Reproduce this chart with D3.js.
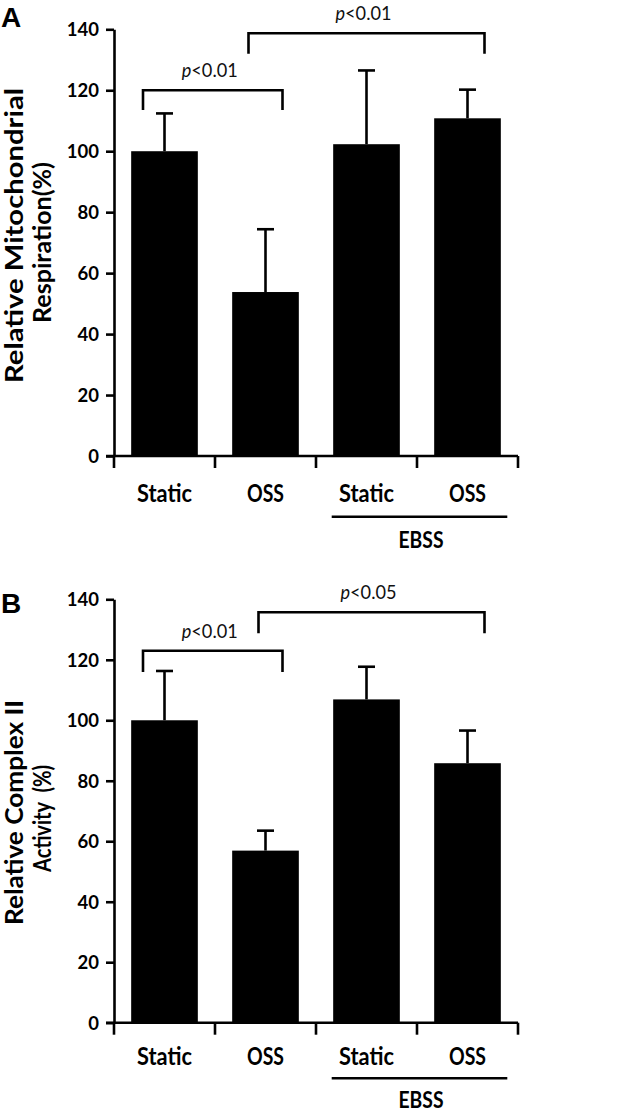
<!DOCTYPE html>
<html>
<head>
<meta charset="utf-8">
<script src="https://cdn.jsdelivr.net/npm/d3@7"></script>
<style>
  html, body { margin: 0; padding: 0; background: #fff; }
  svg { display: block; }
  text { white-space: pre; }
</style>
</head>
<body>
<svg id="chart" width="633" height="1113"></svg>
<script>
// ---------- data ----------
const categories = ["Static", "OSS", "EBSS Static", "EBSS OSS"];
const tickLabels = ["Static", "OSS", "Static", "OSS"];
const groupLabel = "EBSS";
const yTicks = [0, 20, 40, 60, 80, 100, 120, 140];

const respirationValues = [100, 53.8, 102.3, 110.8];
const respirationErrors = [12.4, 20.6, 24.2, 9.4];
const respirationTitle = ["Relative Mitochondrial", "Respiration(%)"];
const respirationBrackets = [
  { from: 0, to: 1, level: 120, leg: 113.5, p: "<0.01" },
  { from: 1, to: 3, level: 138.7, leg: 132, p: "<0.01" }
];

const complexValues = [100, 56.9, 106.9, 85.8];
const complexErrors = [16.3, 6.6, 10.8, 10.8];
const complexTitle = ["Relative Complex II", "Activity  (%)"];
const complexBrackets = [
  { from: 0, to: 1, level: 123, leg: 116, p: "<0.01" },
  { from: 1, to: 3, level: 135.7, leg: 128.8, p: "<0.05" }
];

// ---------- drawing ----------
const svg = d3.select("#chart");
const FONT = "Lato, 'Open Sans', sans-serif";
const SW = 2.6;

function panel(cfg) {
  const g = svg.append("g");
  const x = d3.scaleBand().domain(categories).range([114, 518])
    .paddingInner(0.34).paddingOuter(0.17);
  const y = d3.scaleLinear().domain([0, 140]).range([cfg.y0, cfg.y140]);

  // bars
  g.selectAll("rect.bar").data(cfg.values).join("rect")
    .attr("x", (d, i) => x(categories[i]))
    .attr("width", x.bandwidth())
    .attr("y", d => y(d))
    .attr("height", d => y(0) - y(d))
    .attr("fill", "#000");

  // error bars
  const cx = i => x(categories[i]) + x.bandwidth() / 2;
  const eb = g.append("g").attr("stroke", "#000").attr("stroke-width", SW);
  cfg.values.forEach((v, i) => {
    eb.append("line").attr("x1", cx(i)).attr("x2", cx(i))
      .attr("y1", y(v)).attr("y2", y(v + cfg.errors[i]));
    eb.append("line").attr("x1", cx(i) - 8.5).attr("x2", cx(i) + 8.5)
      .attr("y1", y(v + cfg.errors[i])).attr("y2", y(v + cfg.errors[i]));
  });

  // y axis
  const ya = g.append("g").attr("transform", "translate(114,0)")
    .call(d3.axisLeft(y).tickValues(yTicks).tickSize(8).tickSizeOuter(0).tickPadding(7));
  ya.select(".domain").attr("stroke-width", SW);
  ya.selectAll(".tick line").attr("stroke-width", SW);
  ya.selectAll(".tick text")
    .attr("font-family", FONT).attr("font-weight", "bold")
    .attr("font-size", 18.5).attr("fill", "#000").attr("dy", "0.36em");

  // x axis line + boundary ticks
  const xa = g.append("g").attr("stroke", "#000").attr("stroke-width", SW);
  xa.append("line").attr("x1", 106).attr("x2", 518)
    .attr("y1", y(0)).attr("y2", y(0));
  const bounds = categories.map(c => x(c) - x.step() * x.paddingInner() / 2);
  bounds[0] = 114;
  bounds.push(518);
  bounds.forEach(b => {
    xa.append("line").attr("x1", b).attr("x2", b)
      .attr("y1", y(0)).attr("y2", y(0) + 12);
  });

  // category labels
  tickLabels.forEach((t, i) => {
    g.append("text").text(t)
      .attr("x", cx(i)).attr("y", y(0) + cfg.labelDy)
      .attr("text-anchor", "middle")
      .attr("font-family", FONT).attr("font-weight", "bold")
      .attr("font-size", 24)
      .attr("textLength", t === "Static" ? 55 : 37)
      .attr("lengthAdjust", "spacingAndGlyphs");
  });

  // EBSS grouping line and label
  g.append("line").attr("x1", 331.7).attr("x2", 507.3)
    .attr("y1", y(0) + cfg.groupLineDy).attr("y2", y(0) + cfg.groupLineDy)
    .attr("stroke", "#000").attr("stroke-width", SW);
  g.append("text").text(groupLabel)
    .attr("x", 421).attr("y", y(0) + cfg.groupLabelDy)
    .attr("text-anchor", "middle")
    .attr("font-family", FONT).attr("font-weight", "bold").attr("font-size", 23)
    .attr("textLength", 45).attr("lengthAdjust", "spacingAndGlyphs");

  // significance brackets
  cfg.brackets.forEach((b, k) => {
    const off = cfg.bracketOffsets[k];
    const xl = cx(b.from) + off[0], xr = cx(b.to) + off[1];
    g.append("path")
      .attr("d", `M${xl},${y(b.leg)}V${y(b.level)}H${xr}V${y(b.leg)}`)
      .attr("fill", "none").attr("stroke", "#000").attr("stroke-width", SW);
    const t = g.append("text")
      .attr("x", (xl + xr) / 2 - 3).attr("y", y(b.level) - 13)
      .attr("text-anchor", "middle")
      .attr("font-family", FONT).attr("font-size", 18.5).attr("fill", "#111")
      .attr("textLength", 56).attr("lengthAdjust", "spacingAndGlyphs");
    t.append("tspan").attr("font-style", "italic").text("p");
    t.append("tspan").text(b.p);
  });

  // y-axis title
  cfg.title.forEach((line, i) => {
    g.append("text").text(line)
      .attr("transform", `translate(${cfg.titleX[i]},${cfg.titleY[i]}) rotate(-90)`)
      .attr("text-anchor", "middle")
      .attr("font-family", FONT).attr("font-weight", "bold").attr("font-size", 24)
      .attr("textLength", cfg.titleW[i]).attr("lengthAdjust", "spacingAndGlyphs");
  });

  // panel letter
  g.append("text").text(cfg.letter)
    .attr("x", 1).attr("y", cfg.letterY)
    .attr("font-family", "'Liberation Sans', Arial, sans-serif")
    .attr("font-weight", "bold").attr("font-size", 28);
}

panel({
  letter: "A", letterY: 27,
  y0: 456, y140: 29.3,
  values: respirationValues, errors: respirationErrors,
  brackets: respirationBrackets,
  bracketOffsets: [[-21.5, 17], [-17, 17]],
  title: respirationTitle,
  titleX: [23, 51], titleY: [235.5, 242.5], titleW: [295, 161],
  labelDy: 45.7, groupLineDy: 60.7, groupLabelDy: 92
});

panel({
  letter: "B", letterY: 613,
  y0: 1022.7, y140: 599.3,
  values: complexValues, errors: complexErrors,
  brackets: complexBrackets,
  bracketOffsets: [[-21.5, 17], [-7, 17]],
  title: complexTitle,
  titleX: [23, 51], titleY: [812.5, 818.5], titleW: [225, 107],
  labelDy: 42.3, groupLineDy: 55.6, groupLabelDy: 85
});
</script>
</body>
</html>
